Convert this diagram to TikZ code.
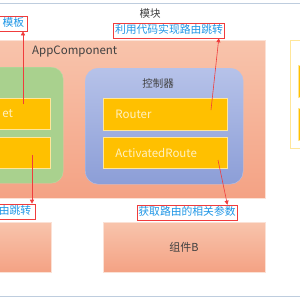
\documentclass[tikz,border=0pt]{standalone}
\usepackage{fontspec}
\setmainfont{Noto Sans CJK SC}
\usetikzlibrary{arrows.meta,positioning,calc}
\definecolor{mSalmonTop}{RGB}{248,196,172}
\definecolor{mSalmonBot}{RGB}{244,162,132}
\definecolor{mGreen}{RGB}{169,209,142}
\definecolor{mBlueTop}{RGB}{182,194,233}
\definecolor{mBlueBot}{RGB}{140,158,215}
\definecolor{mYellow}{RGB}{255,192,0}
\definecolor{mCream}{RGB}{255,230,153}
\definecolor{mLabel}{RGB}{30,150,230}
\definecolor{mRed}{RGB}{240,60,60}
\definecolor{mRule}{RGB}{190,205,222}
\definecolor{mInk}{RGB}{64,64,64}
\tikzset{
  salmon/.style={rectangle, anchor=north west, inner sep=0pt, outer sep=0pt,
    top color=mSalmonTop, bottom color=mSalmonBot, draw=mSalmonTop!50!white, line width=0.4pt},
  greenbox/.style={rectangle, rounded corners=12pt, anchor=north west, inner sep=0pt,
    fill=mGreen, draw=mGreen!80!white, line width=0.4pt},
  bluebox/.style={rectangle, rounded corners=13pt, anchor=north west, inner sep=0pt,
    top color=mBlueTop, bottom color=mBlueBot, draw=mBlueTop, line width=0.4pt},
  ybox/.style={rectangle, anchor=north west, fill=mYellow, draw=mCream, line width=0.8pt,
    inner xsep=12pt, inner ysep=0pt, align=left, text=mCream!60!white,
    font=\fontsize{11.5}{13}\selectfont},
  lbl/.style={rectangle, draw=mRed, line width=0.6pt, fill=white, text=mLabel,
    inner xsep=1.5pt, inner ysep=2.5pt, text height=8pt, text depth=2pt,
    font=\fontsize{10.8}{12}\selectfont},
  arr/.style={mRed, line width=0.6pt, -{Triangle[length=4pt,width=4pt]}},
  heading/.style={text=mInk, font=\fontsize{10.5}{12}\selectfont, inner sep=0pt}
}
\begin{document}
\begin{tikzpicture}[x=1pt,y=-1pt]
  \clip (0,0) rectangle (300,300);
  \fill[white] (0,0) rectangle (300,300);
  % Rules
  \draw[mRule, line width=0.8pt] (0,3) -- (300,3);
  \draw[mRule, line width=0.8pt] (0,296) -- (300,296);
  \node[heading] (module) at (150,14) {模块};
  % AppComponent
  \node[salmon, minimum width=275pt, minimum height=158pt] (app) at (-10,40) {};
  \node[heading, anchor=west, font=\fontsize{11.5}{13}\selectfont] (apptitle) at (32,52) {AppComponent};
  % Template side
  \node[greenbox, minimum width=83pt, minimum height=116pt] (tpl) at (-20,67) {};
  \node[ybox, text width=36pt, minimum height=31pt] (outlet) at (-10,98) {et};
  \node[ybox, text width=36pt, minimum height=31pt] (link) at (-10,137) {};
  % Controller side
  \node[bluebox, minimum width=158pt, minimum height=116pt] (ctrl) at (85,68) {};
  \node[heading] (ctrltitle) at (158,84) {控制器};
  \node[ybox, text width=100pt, minimum height=32pt] (router) at (103,98) {Router};
  \node[ybox, text width=100pt, minimum height=31pt] (active) at (103,137) {ActivatedRoute};
  % Right box
  \node[rectangle, anchor=north west, draw=mCream, line width=0.8pt, fill=white,
    minimum width=30pt, minimum height=108pt] (other) at (290,40) {};
  \node[ybox, text width=0pt, minimum height=32pt] (otherA) at (298,65) {};
  \node[ybox, text width=0pt, minimum height=32pt] (otherB) at (298,108) {};
  % Components
  \node[salmon, minimum width=61pt, minimum height=50pt] (compa) at (-10,222) {};
  \node[salmon, minimum width=162pt, minimum height=50pt, text=mInk,
    font=\fontsize{11}{13}\selectfont] (compb) at (103,222) {组件B};
  % Labels
  \node[lbl, anchor=east] (lbltpl) at (28,23.5) {\makebox[40pt][r]{模板\hspace{2pt}}};
  \node[lbl] (lblcode) at (169,30.5) {利用代码实现路由跳转};
  \node[lbl, anchor=east] (lblnav) at (36,211.5) {\makebox[40pt][r]{由跳转\hspace{3pt}}};
  \node[lbl] (lblparam) at (187,212.5) {获取路由的相关参数};
  % Arrows
  \coordinate (outletpt) at (23,104);
  \coordinate (routerpt) at (211,110);
  \coordinate (linkpt) at (32,155);
  \coordinate (activept) at (218,160);
  \draw[arr] (outletpt) -- (outletpt |- lbltpl.south);
  \draw[arr] (routerpt) -- ([xshift=-6pt]lblcode.south east);
  \draw[arr] (linkpt) -- (linkpt |- lblnav.north);
  \draw[arr] (activept) -- ([xshift=-10pt]lblparam.north east);
\end{tikzpicture}
\end{document}
